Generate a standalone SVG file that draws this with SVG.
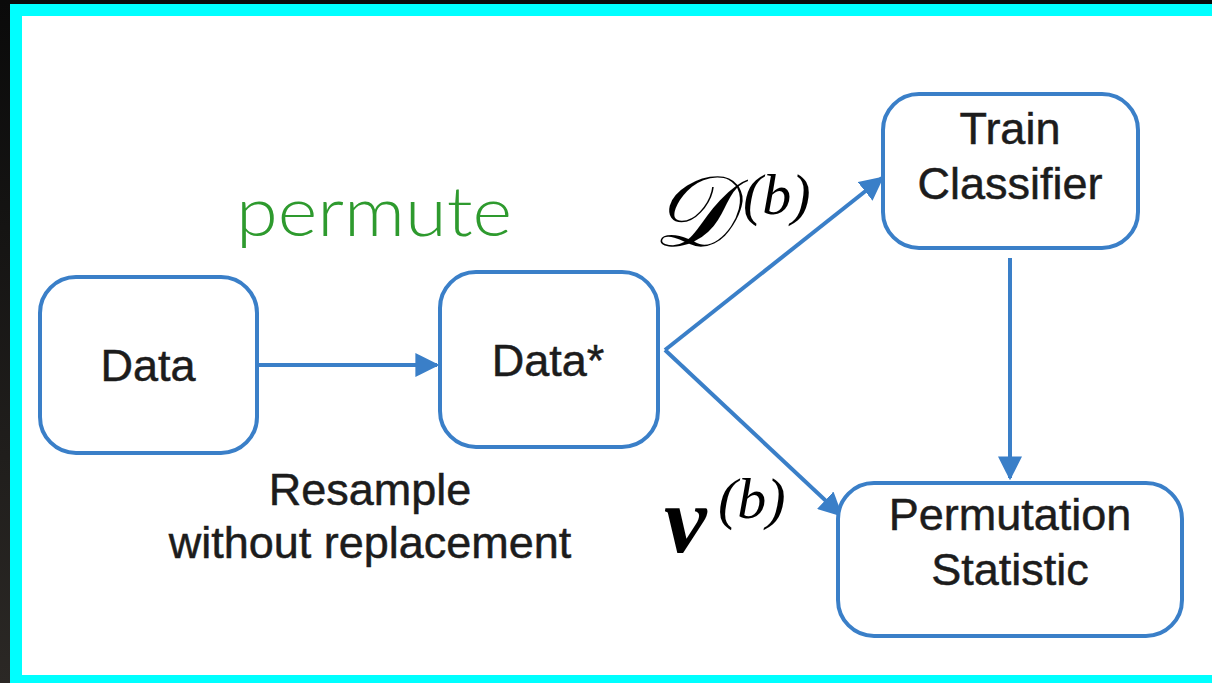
<svg xmlns="http://www.w3.org/2000/svg" width="1212" height="683" viewBox="0 0 1212 683">
<style>
.node{fill:#fff;stroke:#3a7fc8;stroke-width:4}
.lbl{font-family:"Liberation Sans",Arial,sans-serif;font-size:45px;fill:#1c1c1c;stroke:#1c1c1c;stroke-width:0.5;text-anchor:middle}
.edge{stroke:#3a7fc8;stroke-width:4;fill:none}
.math{font-family:"Liberation Serif","DejaVu Serif",serif;fill:#000}
</style>
<defs>
<linearGradient id="side" x1="0" y1="0" x2="0" y2="1">
<stop offset="0" stop-color="#0a0a0a"/><stop offset="1" stop-color="#2b2825"/>
</linearGradient>
<marker id="ah" viewBox="0 0 10 10" refX="9" refY="5" markerWidth="6" markerHeight="6" markerUnits="strokeWidth" orient="auto">
<path d="M0,0 L10,5 L0,10 z" fill="#3a7fc8"/>
</marker>
</defs>
<rect x="0" y="0" width="1212" height="683" fill="url(#side)"/>
<rect x="10" y="4" width="1202" height="679" fill="#00ffff"/>
<rect x="22" y="16" width="1190" height="659" fill="#fff"/>

<g id="connectors">
<line class="edge" x1="257" y1="365" x2="437" y2="365" marker-end="url(#ah)"/>
<line class="edge" x1="665" y1="350" x2="882" y2="178" marker-end="url(#ah)"/>
<line class="edge" x1="665" y1="350" x2="841" y2="515" marker-end="url(#ah)"/>
<line class="edge" x1="1010" y1="258" x2="1010" y2="478" marker-end="url(#ah)"/>
</g>

<g id="node-data">
<rect class="node" x="40" y="277" width="217" height="176" rx="36"/>
<text class="lbl" x="148" y="381">Data</text>
</g>
<g id="node-datastar">
<rect class="node" x="440" y="272" width="218" height="175" rx="36"/>
<text class="lbl" x="548" y="376">Data*</text>
</g>
<g id="node-train">
<rect class="node" x="883" y="94" width="255" height="154" rx="36"/>
<text class="lbl" x="1010" y="144">Train</text>
<text class="lbl" x="1010" y="199">Classifier</text>
</g>
<g id="node-perm">
<rect class="node" x="838" y="483" width="344" height="153" rx="36"/>
<text class="lbl" x="1010" y="530">Permutation</text>
<text class="lbl" x="1010" y="585">Statistic</text>
</g>

<g id="labels">
<text x="236" y="236" font-family="Lato,'Open Sans',sans-serif" font-size="68" font-weight="300" fill="#2e9a2e" textLength="276" lengthAdjust="spacingAndGlyphs">permute</text>
<text class="lbl" x="370" y="505">Resample</text>
<text class="lbl" x="370" y="558">without replacement</text>
<text class="math" x="652" y="246" font-size="100" font-style="italic">𝒟</text>
<text class="math" x="743" y="214" font-size="58" font-style="italic">(b)</text>
<text class="math" x="664" y="552" font-size="96" font-style="italic" font-weight="bold">ν</text>
<text class="math" x="718" y="518" font-size="58" font-style="italic">(b)</text>
</g>
</svg>
